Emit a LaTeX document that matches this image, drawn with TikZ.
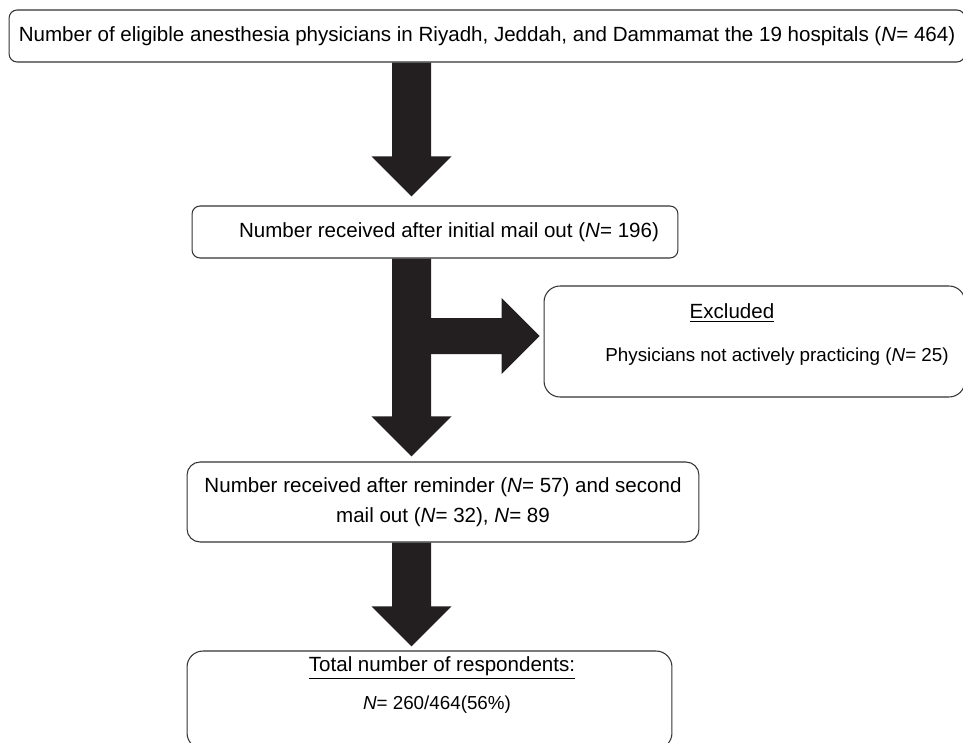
\documentclass[tikz,border=0pt]{standalone}
\usepackage{fontspec}
\setmainfont{Liberation Sans}
\usetikzlibrary{calc}
\definecolor{pilcol}{RGB}{35,31,32}
\tikzset{%
	box/.style={draw=black!80, line width=0.6pt, rounded corners=#1, inner sep=0pt, align=center, font=\fontsize{11.7}{17}\selectfont},
	box/.default=0.16cm,
	txt/.style={inner sep=0pt, font=\fontsize{11.7}{17}\selectfont},
	small/.style={font=\fontsize{10.7}{14}\selectfont},
	pil/.style={fill=pilcol, draw=none},
}
% fat arrow straight down, from #1 to the tip #2
\newcommand{\pildol}[2]{%
	\fill[pil] ($(#1)+(-19.5,0)$) -- ($(#2)+(-19.5,-40)$) -- ($(#2)+(-40,-40)$) -- (#2)
		-- ($(#2)+(40,-40)$) -- ($(#2)+(19.5,-40)$) -- ($(#1)+(19.5,0)$) -- cycle;}

\begin{document}
\begin{tikzpicture}[x=0.02cm, y=-0.02cm]
			\useasboundingbox (0,0) rectangle (963,743);
			
			%okvirji
			\node[box, minimum width=19.12cm, minimum height=1.04cm] (top) at (487,36) {Number of eligible anesthesia physicians in Riyadh, Jeddah, and Dammamat the 19 hospitals (\textit{N}= 464)};
			\node[box, minimum width=9.72cm, minimum height=1.04cm] (first) at (435,232) {\hspace*{0.56cm}Number received after initial mail out (\textit{N}= 196)};
			\node[box=0.32cm, minimum width=8.42cm, minimum height=2.22cm] (excl) at (754.5,341.5) {};
			\node[txt] (exclhead) at (732,313) {\underline{Excluded}};
			\node[txt, small] (exclnum) at (777,357) {Physicians not actively practicing (\textit{N}= 25)};
			\node[box=0.26cm, minimum width=10.24cm, minimum height=1.6cm] (second) at (443,502) {Number received after reminder (\textit{N}= 57) and second\\mail out (\textit{N}= 32), \textit{N}= 89};
			\node[box=0.32cm, minimum width=9.7cm, minimum height=1.96cm] (total) at (429.5,700) {};
			\node[txt] (totalhead) at (442,668) {\underline{Total number of respondents:}};
			\node[txt, small] (totalnum) at (437,705) {\textit{N}= 260/464(56\%)};
			
			%puscice
			\coordinate (a1) at (411.5,0 |- top.south);
			\coordinate (t1) at ($(411.5,0 |- first.north)+(0,-9)$);
			\coordinate (a2) at (411.5,0 |- first.south);
			\coordinate (t2) at ($(411.5,0 |- second.north)+(0,-5)$);
			\coordinate (a3) at (411.5,0 |- second.south);
			\coordinate (t3) at ($(411.5,0 |- total.north)+(0,-4)$);
			\pildol{a1}{t1}
			\pildol{a2}{t2}
			\pildol{a3}{t3}
			
			%odcep
			\coordinate (b) at (430,336);
			\coordinate (bt) at ($(excl.west |- b)+(-4,0)$);
			\fill[pil] ($(b)+(0,-18)$) -- ($(bt)+(-38,-18)$) -- ($(bt)+(-38,-38)$) -- (bt)
				-- ($(bt)+(-38,38)$) -- ($(bt)+(-38,18)$) -- ($(b)+(0,18)$) -- cycle;
		\end{tikzpicture}
\end{document}
